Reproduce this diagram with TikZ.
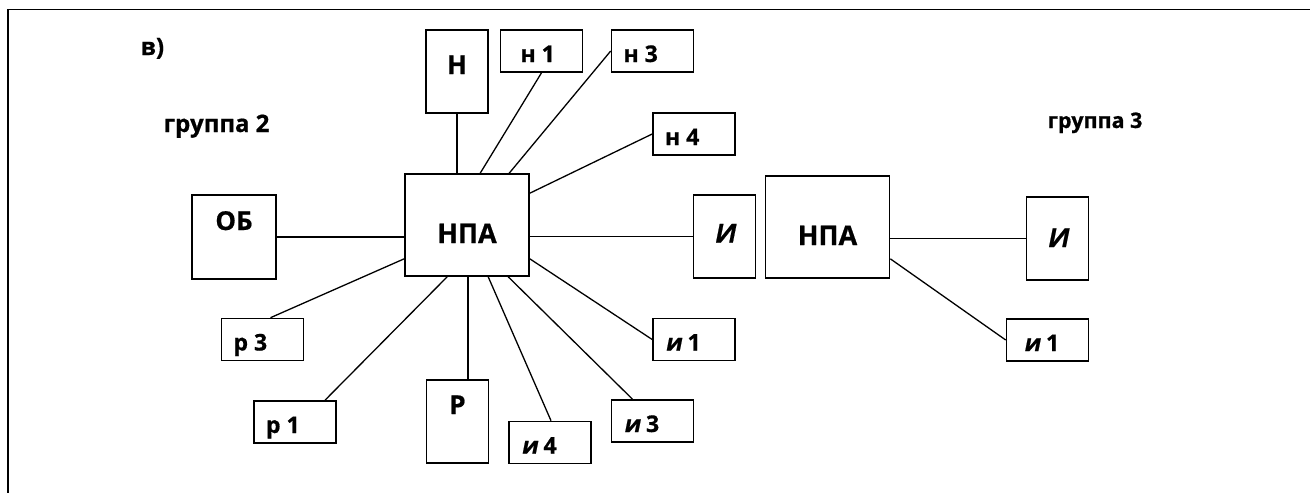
\documentclass[tikz,border=0pt]{standalone}
\usepackage{fontspec}
\setmainfont{Open Sans}[BoldFeatures={FakeBold=0.7}]
\newfontfamily\slnt{Open Sans}[BoldFeatures={FakeBold=0.7,FakeSlant=0.2}]
\newcommand\boxtxt[1]{\makebox[58pt][l]{#1}}
\begin{document}
\begin{tikzpicture}[x=1pt,y=-1pt,line width=1.3pt]
\tikzstyle{blk}=[draw,line width=1.6pt,inner sep=0pt,text depth=0pt,font=\fontsize{26}{26}\selectfont\bfseries]
\tikzstyle{tall}=[blk,minimum width=62pt,minimum height=83pt]
\tikzstyle{small}=[blk,minimum width=82pt,minimum height=42pt,text height=22pt,font=\fontsize{23}{23}\selectfont\bfseries]
\tikzstyle{big}=[blk,minimum width=124pt,minimum height=102pt,text height=36pt,font=\fontsize{27}{27}\selectfont\bfseries]
\tikzstyle{caption}=[inner sep=0pt,anchor=base west,font=\fontsize{24}{24}\selectfont\bfseries]
\useasboundingbox (0,0) rectangle (1310,493);
\draw (1310,9.5) -- (8,9.5) -- (8,493);
\node[caption] (lbl) at (140,55) {в)};
\node[caption] (grA) at (163,132) {группа 2};
\node[caption,font=\fontsize{21.5}{21.5}\selectfont\bfseries] (grB) at (1047,128) {группа 3};
\node[big] (npa) at (467,225) {НПА};
\node[tall,text height=5pt] (nn) at (457,71.5) {Н};
\node[small] (n1) at (541.5,51) {\boxtxt{\hspace{8pt}н 1}};
\node[small] (n3) at (652.5,51) {\boxtxt{н 3}};
\node[small] (n4) at (694,134) {\boxtxt{н 4}};
\node[tall,minimum width=84pt,minimum height=84pt,text height=0pt,text depth=14pt] (ob) at (234,237) {ОБ};
\node[tall,text height=12pt] (ii) at (724.5,236.5) {\slnt И};
\node[small] (r3) at (262.5,339.5) {\boxtxt{р 3}};
\node[small] (r1) at (295,422) {\boxtxt{р 1}};
\node[tall,text height=0pt,text depth=15pt] (rr) at (457.5,421.5) {Р};
\node[small] (i4) at (550,442.5) {\boxtxt{{\slnt и} 4}};
\node[small] (i3) at (652.5,421) {\boxtxt{{\slnt и} 3}};
\node[small] (i1) at (694,339.5) {\boxtxt{{\slnt и} 1}};
\node[big] (npaB) at (827.5,227) {НПА};
\node[tall,text height=17pt] (iiB) at (1057.5,238.5) {\slnt И};
\node[small] (i1B) at (1047.5,340) {\boxtxt{\hspace{5pt}{\slnt и} 1}};

\draw (nn.south) -- (nn.south |- npa.north);
\draw (n1.south) -- ([xshift=76pt]npa.north west);
\draw (n3.west) -- ([xshift=105pt]npa.north west);
\draw (n4.west) -- ([yshift=-20pt]npa.north east);
\draw (ob.east) -- (ob.east -| npa.west);
\draw (npa.east |- ii.west) -- (ii.west);
\draw ([xshift=8pt]r3.north) -- ([yshift=18pt]npa.south west);
\draw ([xshift=30pt]r1.north) -- ([xshift=43pt]npa.south west);
\draw ([xshift=10.5pt]rr.north) -- ([xshift=10.5pt]rr.north |- npa.south);
\draw ([xshift=1pt]i4.north) -- ([xshift=84pt]npa.south west);
\draw ([xshift=-20pt]i3.north) -- ([xshift=104pt]npa.south west);
\draw (i1.west) -- ([yshift=18pt]npa.south east);
\draw (npaB.east |- iiB.west) -- (iiB.west);
\draw ([yshift=20pt]npaB.south east) -- (i1B.west);
\end{tikzpicture}
\end{document}
